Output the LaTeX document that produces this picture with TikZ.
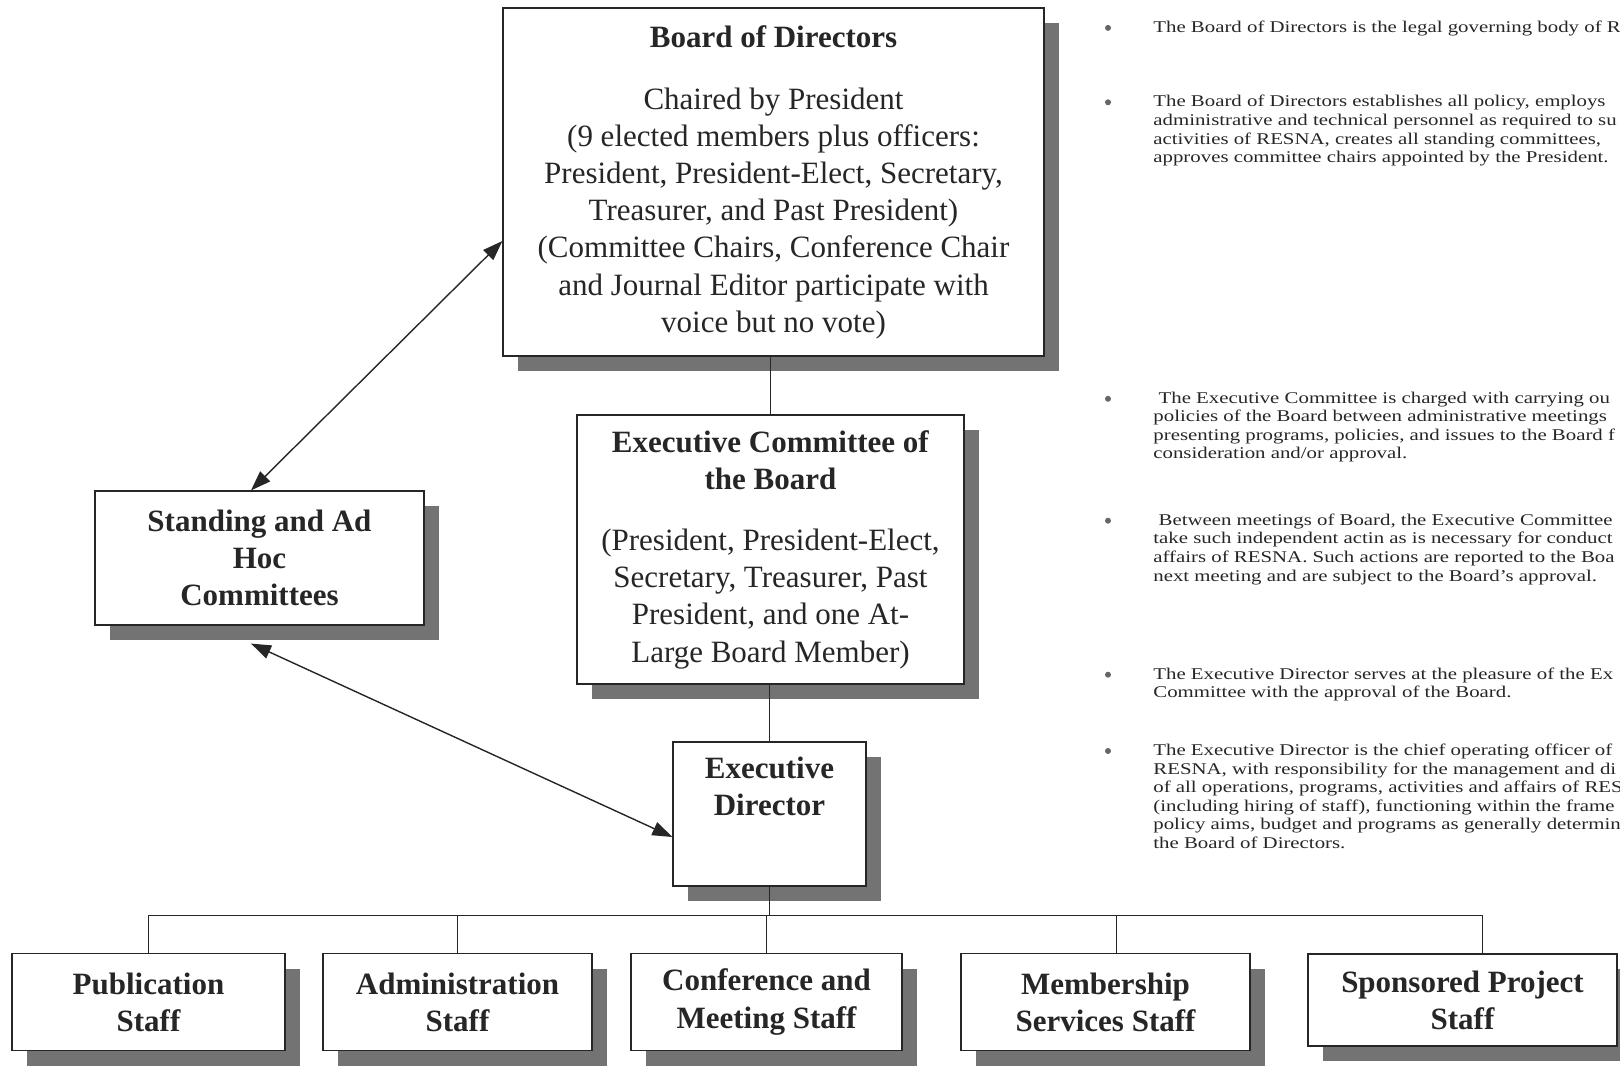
\documentclass[tikz,border=0pt]{standalone}
\usepackage{fontspec}
\setmainfont{Liberation Serif}
\newfontfamily\notefont{Liberation Serif}[FakeStretch=1.27]
\usetikzlibrary{arrows.meta, positioning, shadows}

\begin{document}
\begin{tikzpicture}[
    x=0.5pt, y=-0.5pt,
    box/.style={draw=black!85, fill=white, line width=0.6pt, align=center,
    inner sep=2pt, text=black!85, font=\fontsize{15.5}{18.6}\selectfont,
    drop shadow={shadow xshift=7.5pt, shadow yshift=-7.5pt, fill=black!55, opacity=1}},
    staff/.style={box, font=\fontsize{15.5}{18.6}\selectfont\bfseries},
    note/.style={anchor=north west, align=left, inner sep=0pt, text=black!85,
    font=\notefont\fontsize{8.2}{9.3}\selectfont},
    dot/.style={circle, fill=black!60, inner sep=0pt, minimum size=3pt},
    link/.style={draw=black!85, line width=0.5pt},
    twoway/.style={draw=black!85, line width=0.7pt,
    >={Triangle[length=10pt, width=7pt]}, <->}
    ]
    \clip (0,0) rectangle (1620,1068);

    % governing bodies
    \node[box, minimum width=270.5pt, minimum height=174pt] (board) at (773.5,182)
      {\textbf{Board of Directors}\\[12.4pt]
       Chaired by President\\
       (9 elected members plus officers:\\
       President, President-Elect, Secretary,\\
       Treasurer, and Past President)\\
       (Committee Chairs, Conference Chair\\
       and Journal Editor participate with\\
       voice but no vote)};
    \node[box, minimum width=193.5pt, minimum height=134.5pt] (exec) at (770.5,549.5)
      {\textbf{Executive Committee of}\\
       \textbf{the Board}\\[12pt]
       (President, President-Elect,\\
       Secretary, Treasurer, Past\\
       President, and one At-\\
       Large Board Member)};
    \node[staff, minimum width=164.5pt, minimum height=67pt] (comm) at (259.5,558)
      {Standing and Ad\\Hoc\\Committees};
    \node[staff, minimum width=96.5pt, minimum height=72pt] (dir) at (769.5,814)
      {Executive\\Director\\[9pt]\mbox{}};

    % staff row
    \node[staff, minimum width=136.5pt, minimum height=48.5pt] (pub)   at (148.5,1002) {Publication\\Staff};
    \node[staff, minimum width=134.5pt, minimum height=48.5pt] (admin) at (457.5,1002) {Administration\\Staff};
    \node[staff, minimum width=135.5pt, minimum height=48.5pt] (conf)  at (766.5,1002) {Conference and\\Meeting Staff};
    \node[staff, minimum width=144.5pt, minimum height=48.5pt] (memb)  at (1105.5,1002) {Membership\\Services Staff};
    \node[staff, minimum width=154.5pt, minimum height=46pt]   (spons) at (1462.5,1000) {Sponsored Project\\Staff};

    % notes on the right
    \foreach \y [count=\i] in {27.9,102.3,398.8,520.7,674.7,751}
      \node[dot] (dot\i) at (1108,\y) {};
    \node[note] (note1) at (1153,20.5)
      {The Board of Directors is the legal governing body of R};
    \node[note] (note2) at (1153,94.9)
      {The Board of Directors establishes all policy, employs\\
       administrative and technical personnel as required to su\\
       activities of RESNA, creates all standing committees,\\
       approves committee chairs appointed by the President.};
    \node[note] (note3) at (1153,391.4)
      {\ The Executive Committee is charged with carrying ou\\
       policies of the Board between administrative meetings\\
       presenting programs, policies, and issues to the Board f\\
       consideration and/or approval.};
    \node[note] (note4) at (1153,513.3)
      {\ Between meetings of Board, the Executive Committee\\
       take such independent actin as is necessary for conduct\\
       affairs of RESNA. Such actions are reported to the Boa\\
       next meeting and are subject to the Board’s approval.};
    \node[note] (note5) at (1153,667.3)
      {The Executive Director serves at the pleasure of the Ex\\
       Committee with the approval of the Board.};
    \node[note] (note6) at (1153,743.6)
      {The Executive Director is the chief operating officer of\\
       RESNA, with responsibility for the management and di\\
       of all operations, programs, activities and affairs of RES\\
       (including hiring of staff), functioning within the frame\\
       policy aims, budget and programs as generally determin\\
       the Board of Directors.};

    % connectors
    \coordinate (bus) at (767,915);
    \coordinate (mdrop) at ([xshift=5.25pt]memb.north);
    \coordinate (sdrop) at ([xshift=9.75pt]spons.north);
    \path[link]
      (exec.north |- board.south)  edge  (exec.north)
      (dir.north |- exec.south)    edge  (dir.north)
      (dir.south)                  edge  (dir.south |- bus)
      (admin.north)                edge  (admin.north |- bus)
      (conf.north)                 edge  (conf.north |- bus)
      (mdrop)                      edge  (mdrop |- bus)
    ;
    \draw[link] (pub.north) |- (sdrop |- bus) -- (sdrop);

    \draw[twoway] ([xshift=-4.25pt]comm.north) -- ([yshift=-29.5pt]board.west);
    \draw[twoway] ([xshift=-4.25pt, yshift=-9pt]comm.south) -- ([yshift=-11.5pt]dir.west);
\end{tikzpicture}
\end{document}
